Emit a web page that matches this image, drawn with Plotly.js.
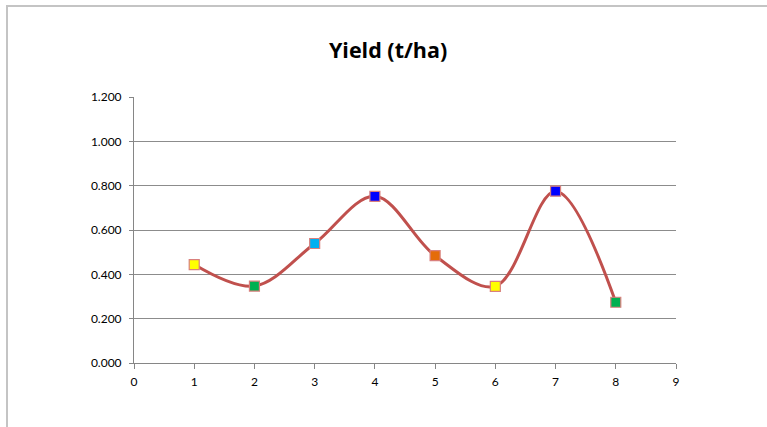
<!DOCTYPE html>
<html>
<head>
<meta charset="utf-8">
<script src="https://cdn.plot.ly/plotly-3.0.1.min.js"></script>
<style>
html,body{margin:0;padding:0;background:#fff;}
#wrap{position:relative;width:767px;height:427px;}
#chart{width:767px;height:427px;}
#frame{position:absolute;left:6px;top:5px;width:770px;height:430px;border:2px solid #c4c4c4;box-sizing:border-box;pointer-events:none;}
</style>
</head>
<body>
<div id="wrap">
<div id="chart"></div>
<div id="frame"></div>
</div>
<script>
const xValues = [1, 2, 3, 4, 5, 6, 7, 8];
const yieldValues = [0.444, 0.347, 0.539, 0.752, 0.484, 0.346, 0.775, 0.274];
const markerColors = ['#FFFF00', '#00B050', '#00B0F0', '#0000FF', '#E46C0A', '#FFFF00', '#0000FF', '#00B050'];
const yTicks = [0, 0.2, 0.4, 0.6, 0.8, 1.0, 1.2];
const xTicks = [0, 1, 2, 3, 4, 5, 6, 7, 8, 9];

const trace = {
  x: xValues,
  y: yieldValues,
  type: 'scatter',
  mode: 'lines+markers',
  line: {shape: 'spline', smoothing: 1, color: '#C0504D', width: 3},
  marker: {symbol: 'square', size: 10, color: markerColors, line: {color: '#D9807D', width: 1.2}},
  hoverinfo: 'x+y'
};

const layout = {
  width: 767,
  height: 427,
  margin: {l: 134, r: 91, t: 97, b: 64},
  paper_bgcolor: '#ffffff',
  plot_bgcolor: '#ffffff',
  showlegend: false,
  font: {family: 'Lato, "Open Sans", sans-serif', color: '#000', size: 12},
  title: {
    text: '<b>Yield (t/ha)</b>',
    font: {family: '"Open Sans", Lato, sans-serif', size: 21.5, color: '#000'},
    x: 0.506, xref: 'container', xanchor: 'center',
    y: 0.882, yref: 'container', yanchor: 'middle'
  },
  xaxis: {
    range: [0, 9],
    tickvals: xTicks,
    ticktext: xTicks.map(String),
    showgrid: false,
    zeroline: false,
    showline: true,
    linecolor: '#868686',
    linewidth: 1,
    ticks: 'outside',
    ticklen: 5,
    tickcolor: '#868686',
    ticklabelstandoff: 3,
    tickfont: {size: 12, color: '#000'},
    fixedrange: true
  },
  yaxis: {
    range: [0, 1.2],
    tickvals: yTicks,
    ticktext: yTicks.map(v => v.toFixed(3)),
    showgrid: true,
    gridcolor: '#8c8c8c',
    gridwidth: 1,
    zeroline: false,
    showline: true,
    linecolor: '#868686',
    linewidth: 1,
    ticks: 'outside',
    ticklen: 4,
    tickcolor: '#868686',
    ticklabelstandoff: 5,
    tickfont: {size: 12, color: '#000'},
    fixedrange: true
  }
};

Plotly.newPlot('chart', [trace], layout, {displayModeBar: false, staticPlot: true});
</script>
</body>
</html>
